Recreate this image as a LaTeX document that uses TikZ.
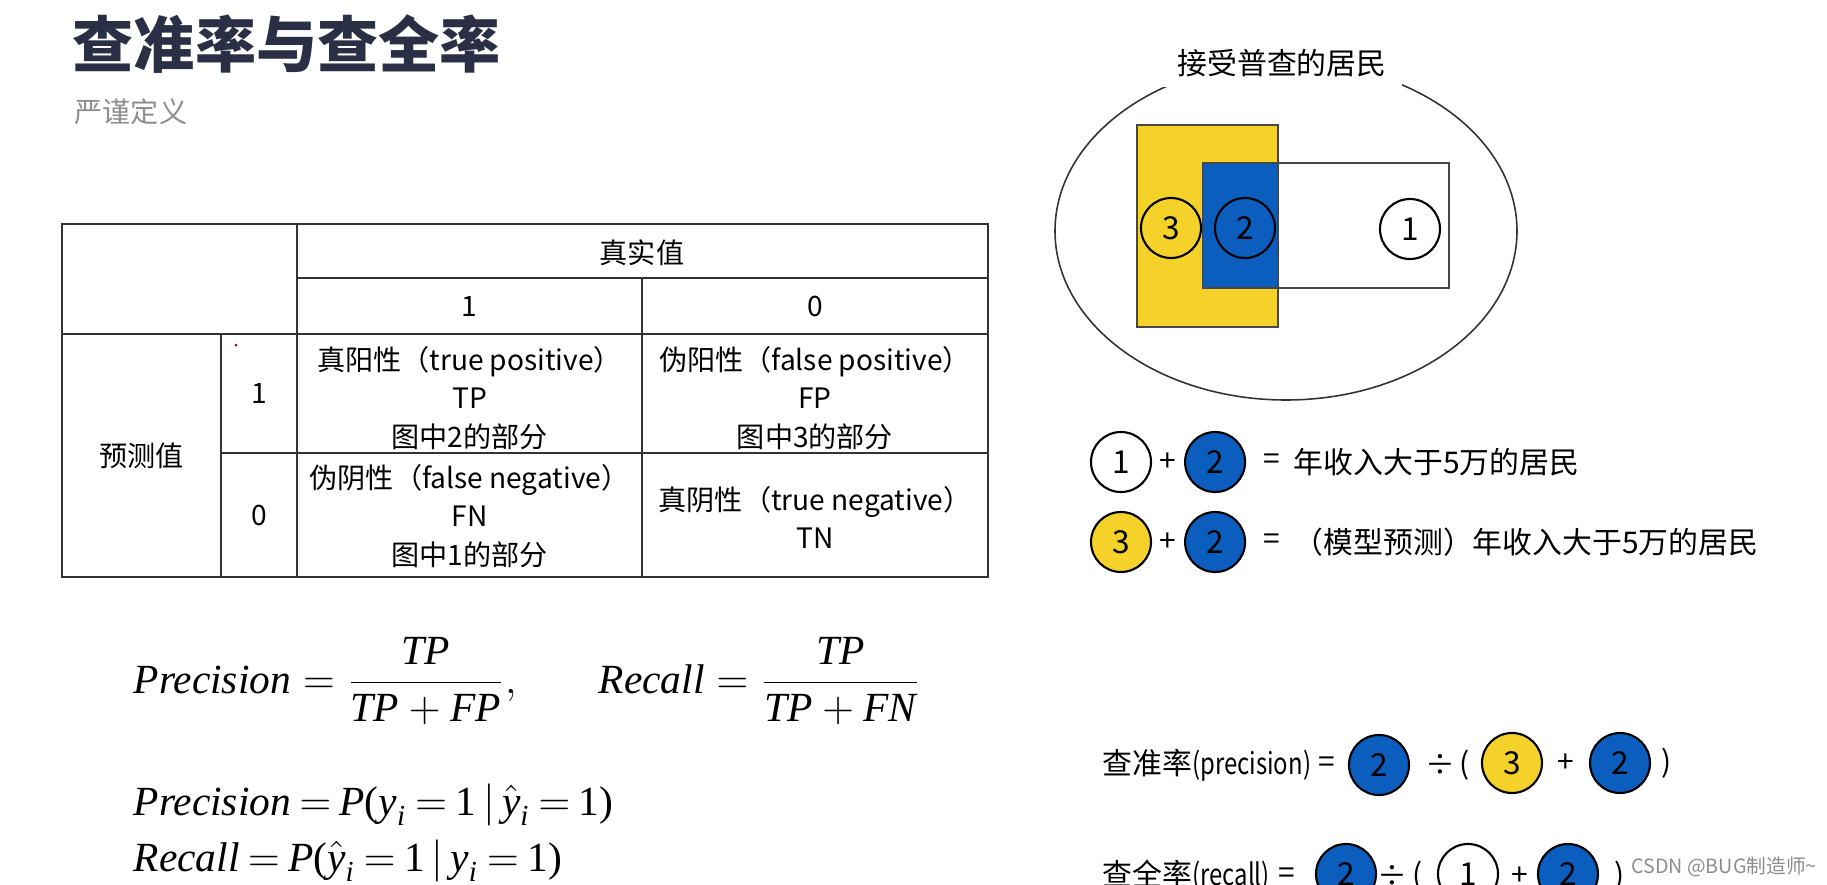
\documentclass[tikz,border=0pt]{standalone}
\usepackage[no-math]{fontspec}
\usepackage{amsmath}
\setmainfont{Noto Sans CJK SC}
\newfontfamily\tmfont{Liberation Serif}
\newcommand{\vzi}[1]{\text{\tmfont\itshape #1}}
\newcommand{\vzr}[1]{\text{\tmfont #1}}
\usetikzlibrary{positioning,calc}
\definecolor{nadpis}{HTML}{2B2F45}
\definecolor{sedy}{HTML}{8E8E8E}
\definecolor{zluta}{HTML}{F5D22A}
\definecolor{modra}{HTML}{0B5DBE}
\definecolor{mrizka}{HTML}{333333}
\tikzset{
  kruh/.style={circle,draw=black,fill=white,line width=0.6pt,minimum size=6mm,inner sep=0pt,font=\fontsize{9}{10}\selectfont},
  kruhZ/.style={kruh,fill=zluta},
  kruhM/.style={kruh,fill=modra},
  bunka/.style={align=center,inner sep=0pt,font=\fontsize{8}{11}\selectfont},
  ruka/.style={inner sep=0pt,font=\fontsize{8.5}{10}\selectfont},
  cara/.style={draw=mrizka,line width=0.45pt},
  obrys/.style={draw=mrizka!90,line width=0.6pt},
  vzorec/.style={anchor=base west,inner sep=0pt,font=\fontsize{11.8}{14}\selectfont},
}

\begin{document}
\begin{tikzpicture}[x=0.1mm,y=-0.1mm]
  \useasboundingbox[fill=white] (0,0) rectangle (1827,885);
  % nadpis
  \node[anchor=west,inner sep=0pt,text=nadpis,font=\fontsize{17.4}{20}\selectfont\bfseries] (nadpis) at (72,44) {查准率与查全率};
  \node[anchor=west,inner sep=0pt,text=sedy,font=\fontsize{8}{10}\selectfont] (podnadpis) at (74,112) {严谨定义};

  % tabulka
  \draw[cara] (62,224) rectangle (988,577);
  \draw[cara] (297,224) -- (297,577);
  \draw[cara] (297,278) -- (988,278);
  \draw[cara] (62,334) -- (988,334);
  \draw[cara] (642,278) -- (642,577);
  \draw[cara] (221,334) -- (221,577);
  \draw[cara] (221,453) -- (988,453);
  \node[bunka] (skut) at (642,253) {真实值};
  \node[bunka] (s1) at (469.5,306) {1};
  \node[bunka] (s0) at (815,306) {0};
  \node[bunka] (pred) at (141.5,456) {预测值};
  \node[bunka] (p1) at (259,393) {1};
  \node[bunka] (p0) at (259,515) {0};
  \node[bunka] (tp) at (469.5,398) {真阳性（true positive）\\TP\\图中2的部分};
  \node[bunka] (fp) at (815,398) {伪阳性（false positive）\\FP\\图中3的部分};
  \node[bunka] (fn) at (469.5,516) {伪阴性（false negative）\\FN\\图中1的部分};
  \node[bunka] (tn) at (815,517.5) {真阴性（true negative）\\TN};
  \fill[red!60!black] (236,345) circle (1.5);

  % vzorce
  \node[vzorec] (presnost) at (133,693) {$\displaystyle \vzi{Precision}=\frac{\vzi{TP}}{\vzi{TP}+\vzi{FP}},$};
  \node[vzorec] (uplnost) at (598,693) {$\displaystyle \vzi{Recall}=\frac{\vzi{TP}}{\vzi{TP}+\vzi{FN}}$};
  \node[vzorec] (presnostP) at (133,815) {\thickmuskip=3.5mu$\vzi{Precision}=\vzi{P}\vzr{(}\vzi{y}_{\vzi{i}}=\vzr{1}\,|\,\hat{\vzi{y}}_{\vzi{i}}=\vzr{1}\vzr{)}$};
  \node[vzorec] (uplnostP) at (133,871) {\thickmuskip=3.5mu$\vzi{Recall}=\vzi{P}\vzr{(}\hat{\vzi{y}}_{\vzi{i}}=\vzr{1}\,|\,\vzi{y}_{\vzi{i}}=\vzr{1}\vzr{)}$};

  % mnoziny
  \draw[cara] (1286,231) ellipse [x radius=231,y radius=169];
  \fill[zluta] (1137,125) rectangle (1278,327);
  \fill[modra] (1203,163) rectangle (1278,288);
  \draw[obrys] (1137,125) rectangle (1278,327);
  \draw[obrys] (1203,163) rectangle (1449,288);
  \node[ruka,fill=white,inner xsep=1.5mm,inner ysep=1mm] (obyv) at (1282,63) {接受普查的居民};
  \node[kruhZ] (v3) at (1171,228) {3};
  \node[kruhM] (v2) at (1245,228) {2};
  \node[kruh] (v1) at (1410,229) {1};

  % legenda
  \node[kruh] (l1k1) at (1121,462) {1};
  \node[kruhM] (l1k2) [right=3.2mm of l1k1] {2};
  \node[ruka] (l1plus) at ($(l1k1.east)!0.5!(l1k2.west)$) {+};
  \node[ruka] (l1rov) at (1272,462) {=};
  \node[ruka,anchor=west] (l1txt) at (1293,462) {年收入大于5万的居民};
  \node[kruhZ] (l2k3) at (1121,542) {3};
  \node[kruhM] (l2k2) [right=3.2mm of l2k3] {2};
  \node[ruka] (l2plus) at ($(l2k3.east)!0.5!(l2k2.west)$) {+};
  \node[ruka] (l2rov) at (1272,542) {=};
  \node[ruka,anchor=west] (l2txt) at (1293,542) {（模型预测）年收入大于5万的居民};

  % presnost a uplnost
  \node[ruka,anchor=west] (pTxt) at (1102,765) {查准率\scalebox{0.8}[1]{(precision)}};
  \node[ruka] (pRov) at (1327,765) {=};
  \node[kruhM] (pK2) at (1379,765) {2};
  \node[ruka] (pDel) at (1440,765) {÷};
  \node[ruka] (pLz) at (1465,765) {(};
  \node[kruhZ] (pK3) at (1512,763) {3};
  \node[ruka] (pPlus) at (1566,763) {+};
  \node[kruhM] (pK2b) at (1620,763) {2};
  \node[ruka] (pPz) at (1667,763) {)};
  \node[ruka,anchor=west] (rTxt) at (1102,876) {查全率\scalebox{0.8}[1]{(recall)}};
  \node[ruka] (rRov) at (1287,876) {=};
  \node[kruhM] (rK2) at (1346,874) {2};
  \node[ruka] (rDel) at (1392,876) {÷};
  \node[ruka] (rLz) at (1418,876) {(};
  \node[kruh] (rK1) at (1468,874) {1};
  \node[ruka] (rPlus) at (1520,876) {+};
  \node[kruhM] (rK2b) at (1568,874) {2};
  \node[ruka] (rPz) at (1620,876) {)};
  \node[inner sep=0pt,text=sedy,font=\fontsize{5.6}{7}\selectfont] (csdn) at (1724,867) {CSDN @BUG制造师\textasciitilde};
\end{tikzpicture}
\end{document}
